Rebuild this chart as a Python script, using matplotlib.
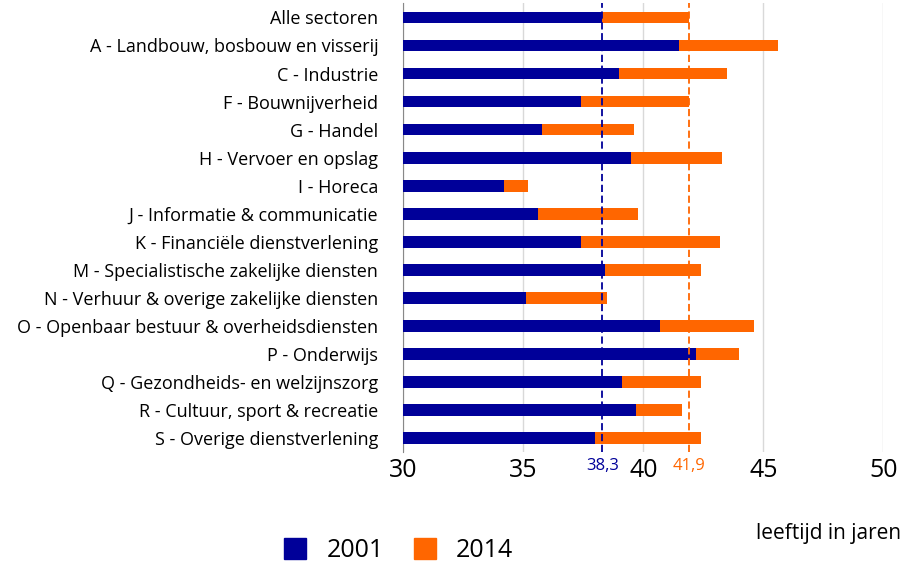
import matplotlib
matplotlib.use("Agg")
import matplotlib.pyplot as plt
from matplotlib.patches import Patch

plt.rcParams['font.family'] = ['Open Sans', 'DejaVu Sans']

categories = ["Alle sectoren", "A - Landbouw, bosbouw en visserij", "C - Industrie",
              "F - Bouwnijverheid", "G - Handel", "H - Vervoer en opslag", "I - Horeca",
              "J - Informatie & communicatie", "K - Financiële dienstverlening",
              "M - Specialistische zakelijke diensten", "N - Verhuur & overige zakelijke diensten",
              "O - Openbaar bestuur & overheidsdiensten", "P - Onderwijs",
              "Q - Gezondheids- en welzijnszorg", "R - Cultuur, sport & recreatie",
              "S - Overige dienstverlening"]
v2001 = [38.3, 41.5, 39.0, 37.4, 35.8, 39.5, 34.2, 35.6, 37.4, 38.4, 35.1, 40.7, 42.2, 39.1, 39.7, 38.0]
v2014 = [41.9, 45.6, 43.5, 41.9, 39.6, 43.3, 35.2, 39.8, 43.2, 42.4, 38.5, 44.6, 44.0, 42.4, 41.6, 42.4]
ref2001, ref2014 = 38.3, 41.9
xticks = [30, 35, 40, 45, 50]

navy = "#000099"
orange = "#FF6600"

fig = plt.figure(figsize=(9.06, 5.68), dpi=100)
ax = fig.add_axes([0.445, 0.204, 0.53, 0.79])
y = list(range(len(categories)))
ax.barh(y, [b - 30 for b in v2014], left=30, height=0.42, color=orange, zorder=2)
ax.barh(y, [a - 30 for a in v2001], left=30, height=0.42, color=navy, zorder=3)
ax.axvline(ref2001, color=navy, ls=(0, (4, 2)), lw=1.3, zorder=4)
ax.axvline(ref2014, color=orange, ls=(0, (4, 2)), lw=1.3, zorder=4)
ax.set_xlim(30, 50)
ax.set_ylim(len(categories) - 0.5, -0.5)
ax.set_yticks(y)
ax.set_yticklabels(categories, fontsize=13)
ax.set_xticks(xticks)
ax.set_xticklabels([str(t) for t in xticks], fontsize=18)
ax.tick_params(axis='y', length=0, pad=18)
ax.tick_params(axis='x', length=0, pad=4)
ax.grid(axis='x', color='#d9d9d9', lw=1, zorder=0)
for s in ['top', 'right', 'bottom']:
    ax.spines[s].set_visible(False)
ax.spines['left'].set_color('#888888')
ax.text(ref2001, -0.012, "38,3", transform=ax.get_xaxis_transform(), ha='center', va='top', color=navy, fontsize=12)
ax.text(ref2014, -0.012, "41,9", transform=ax.get_xaxis_transform(), ha='center', va='top', color=orange, fontsize=12)
fig.text(0.995, 0.06, "leeftijd in jaren", ha='right', va='center', fontsize=15)
fig.legend(handles=[Patch(color=navy, label="2001"), Patch(color=orange, label="2014")],
           loc='center', bbox_to_anchor=(0.44, 0.03), ncol=2, frameon=False, fontsize=18,
           handlelength=0.9, handleheight=0.9, columnspacing=1.2)
fig.savefig("out.png", dpi=100)
